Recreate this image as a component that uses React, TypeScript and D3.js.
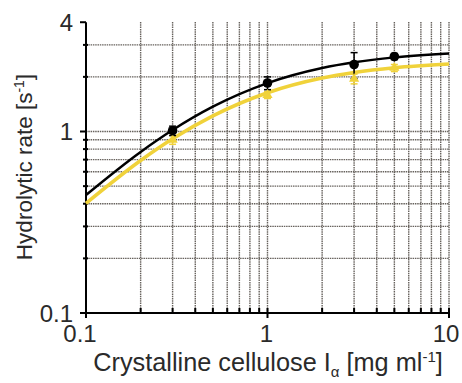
import React, { useEffect, useRef } from 'react';
import * as d3 from 'd3';

// measured points
const concentrations = [0.3, 1, 3, 5];
const blackRates = [1.01, 1.85, 2.34, 2.59];
const blackErr = [0.06, 0.15, 0.38, 0.1];
const yellowRates = [0.9, 1.59, 1.95, 2.24];
const yellowErr = [0.05, 0.07, 0.12, 0.1];

// fitted curves
const curveX = [0.1, 0.2, 0.3, 0.5, 1, 2, 3, 5, 10];
const blackCurve = [0.447, 0.772, 1.019, 1.37, 1.847, 2.237, 2.406, 2.561, 2.69];
const yellowCurve = [0.402, 0.692, 0.911, 1.219, 1.635, 1.971, 2.115, 2.248, 2.358];

const xMajor = [0.1, 1, 10];
const xMinor = [0.2, 0.3, 0.4, 0.5, 0.6, 0.7, 0.8, 0.9, 2, 3, 4, 5, 6, 7, 8, 9];
const yMajor = [0.1, 1, 4];
const yMinor = [0.2, 0.3, 0.4, 0.5, 0.6, 0.7, 0.8, 0.9, 2, 3];

const YELLOW = '#f0d23a';
const TEXT = '#2a2a2a';

const App = () => {
  const svgRef = useRef<SVGSVGElement>(null);

  useEffect(() => {
    if (!svgRef.current) return;
    const width = 462;
    const height = 383;
    const left = 86, right = 449, top = 22, bottom = 313;

    const x = d3.scaleLog().domain([0.1, 10]).range([left, right]);
    // 1 decade = same pixels as on x
    const decade = (right - left) / 2;
    const y = d3.scaleLog().domain([0.1, 1]).range([bottom, bottom - decade]);

    const svg = d3.select(svgRef.current)
      .attr('width', width)
      .attr('height', height)
      .style('font-family', 'Liberation Sans, Arial, sans-serif');
    svg.selectAll('*').remove();

    // grid
    const grid = svg.append('g')
      .style('stroke', '#67625d')
      .style('stroke-width', '1.4px')
      .style('stroke-dasharray', '1.5,0.8');
    grid.selectAll('.vg')
      .data([...xMinor, 1, 10])
      .enter()
      .append('line')
      .attr('x1', d => x(d)).attr('x2', d => x(d))
      .attr('y1', top).attr('y2', bottom);
    grid.selectAll('.hg')
      .data([...yMinor, 1])
      .enter()
      .append('line')
      .attr('x1', left).attr('x2', right)
      .attr('y1', d => y(d)).attr('y2', d => y(d));

    // axes
    const ax = svg.append('g').style('stroke', '#000').style('stroke-width', '2px');
    ax.append('line').attr('x1', left).attr('x2', left).attr('y1', y(4)).attr('y2', bottom);
    ax.append('line').attr('x1', left).attr('x2', right + 1).attr('y1', bottom).attr('y2', bottom);
    ax.selectAll('.ymaj').data(yMajor).enter().append('line')
      .attr('x1', left - 6).attr('x2', left)
      .attr('y1', d => y(d)).attr('y2', d => y(d));
    ax.selectAll('.ymin').data(yMinor).enter().append('line')
      .attr('x1', left - 3).attr('x2', left + 2)
      .attr('y1', d => y(d)).attr('y2', d => y(d));
    ax.selectAll('.xmaj').data(xMajor).enter().append('line')
      .attr('x1', d => x(d)).attr('x2', d => x(d))
      .attr('y1', bottom - 5).attr('y2', bottom + 5);
    ax.selectAll('.xmin').data(xMinor).enter().append('line')
      .attr('x1', d => x(d)).attr('x2', d => x(d))
      .attr('y1', bottom - 5).attr('y2', bottom);

    // tick labels
    svg.selectAll('.ylab').data(yMajor).enter().append('text')
      .attr('x', left - 13)
      .attr('y', d => y(d))
      .attr('dy', '0.36em')
      .attr('text-anchor', 'end')
      .style('font-size', '24px')
      .style('fill', TEXT)
      .text(d => String(d));
    svg.selectAll('.xlab').data(xMajor).enter().append('text')
      .attr('x', (d, i) => x(d) + (i === 0 ? -6 : i === 2 ? -3 : -1))
      .attr('y', bottom + 29)
      .attr('text-anchor', 'middle')
      .style('font-size', '24px')
      .style('fill', TEXT)
      .text(d => String(d));

    // axis titles
    const xt = svg.append('text')
      .attr('x', 268)
      .attr('y', 371)
      .attr('text-anchor', 'middle')
      .style('font-size', '25.3px')
      .style('fill', TEXT);
    xt.append('tspan').text('Crystalline cellulose I');
    xt.append('tspan').attr('dy', 6).style('font-size', '15px').text('α');
    xt.append('tspan').attr('dy', -6).text(' [mg ml');
    xt.append('tspan').attr('dy', -9).style('font-size', '15px').text('-1');
    xt.append('tspan').attr('dy', 9).text(']');

    const yt = svg.append('text')
      .attr('transform', `translate(32, 167) rotate(-90)`)
      .attr('text-anchor', 'middle')
      .style('font-size', '22.5px')
      .style('fill', TEXT);
    yt.append('tspan').text('Hydrolytic rate [s');
    yt.append('tspan').attr('dy', -8).style('font-size', '14px').text('-1');
    yt.append('tspan').attr('dy', 8).text(']');

    // fitted curves
    const line = d3.line<number>()
      .x((d, i) => x(curveX[i]))
      .y(d => y(d))
      .curve(d3.curveMonotoneX);
    svg.append('path')
      .datum(yellowCurve)
      .attr('d', line)
      .style('fill', 'none')
      .style('stroke', YELLOW)
      .style('stroke-width', '3.5px');
    svg.append('path')
      .datum(blackCurve)
      .attr('d', line)
      .style('fill', 'none')
      .style('stroke', '#000')
      .style('stroke-width', '2.5px');

    // error bars
    const drawErr = (vals: number[], errs: number[], color: string) => {
      const g = svg.append('g').style('stroke', color).style('stroke-width', '1.5px');
      concentrations.forEach((c, i) => {
        const cx = x(c);
        const hi = y(vals[i] + errs[i]);
        const lo = y(vals[i] - errs[i]);
        g.append('line').attr('x1', cx).attr('x2', cx).attr('y1', hi).attr('y2', lo);
        g.append('line').attr('x1', cx - 3.5).attr('x2', cx + 3.5).attr('y1', hi).attr('y2', hi);
        g.append('line').attr('x1', cx - 3.5).attr('x2', cx + 3.5).attr('y1', lo).attr('y2', lo);
      });
    };
    drawErr(yellowRates, yellowErr, YELLOW);
    drawErr(blackRates, blackErr, '#000');

    // markers
    svg.selectAll('.tri').data(yellowRates).enter().append('path')
      .attr('d', d3.symbol().type(d3.symbolTriangle).size(45))
      .attr('transform', (d, i) => `translate(${x(concentrations[i])}, ${y(d)})`)
      .style('fill', YELLOW);
    svg.selectAll('.dot').data(blackRates).enter().append('circle')
      .attr('cx', (d, i) => x(concentrations[i]))
      .attr('cy', d => y(d))
      .attr('r', 4.8)
      .style('fill', '#000');
  }, []);

  return (
    <svg ref={svgRef} style={{ position: 'absolute', left: 0, top: 0, background: '#fff' }}></svg>
  );
};

export default App;
